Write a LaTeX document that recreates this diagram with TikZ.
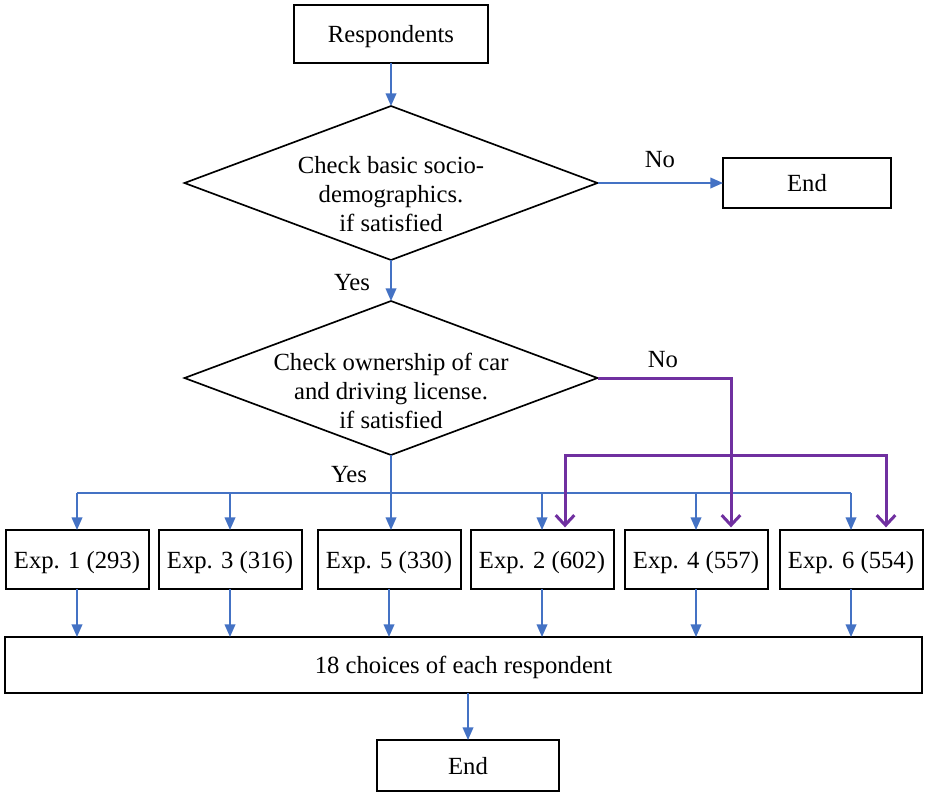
\documentclass[tikz,border=0pt]{standalone}
\usepackage{fontspec}
\setmainfont{Liberation Serif}
\usetikzlibrary{arrows.meta,shapes.geometric,calc}
\definecolor{bblue}{RGB}{68,114,196}
\definecolor{ppurple}{RGB}{112,48,160}
\begin{document}
\begin{tikzpicture}[x=0.75pt,y=-0.75pt,
  every node/.style={font=\fontsize{18.5}{21.75}\selectfont},
  box/.style={draw,line width=1.5pt,inner sep=0pt,outer sep=0pt,text depth=0pt},
  dia/.style={diamond,draw,line width=1.25pt,inner sep=0pt,outer sep=0pt,minimum width=309.75pt,minimum height=115.5pt},
  expbox/.style={box,minimum width=107.25pt,minimum height=44.25pt},
  bline/.style={draw=bblue,line width=1.25pt},
  barrow/.style={bline,-{Triangle[length=9.5pt,width=8pt]}},
  parrow/.style={draw=ppurple,line width=2.25pt,-{Straight Barb[length=7.5pt,width=14pt]},shorten >=2pt}]
\useasboundingbox (0,0) rectangle (927,794);
% nodes
\node[box,minimum width=145.5pt,minimum height=43.5pt] (r) at (391,34) {Respondents};
\node[dia] (d1) at (391,183) {};
\node[align=center] (t1) at (391,194) {Check basic socio-\\demographics.\\if satisfied};
\node[box,minimum width=126pt,minimum height=37.5pt] (end1) at (807,183) {End};
\node (no1) at (660,160) {No};
\node (yes1) at (352,283) {Yes};
\node[dia] (d2) at (391,378) {};
\node[align=center] (t2) at (391,391) {Check ownership of car\\and driving license.\\if satisfied};
\node (no2) at (663,360) {No};
\node (yes2) at (349,475) {Yes};
\node[expbox] (e1) at (77,559.5) {Exp. 1 (293)};
\node[expbox] (e3) at (230,559.5) {Exp. 3 (316)};
\node[expbox] (e5) at (389,559.5) {Exp. 5 (330)};
\node[expbox] (e2) at (542,559.5) {Exp. 2 (602)};
\node[expbox] (e4) at (696,559.5) {Exp. 4 (557)};
\node[expbox] (e6) at (851,559.5) {Exp. 6 (554)};
\node[box,minimum width=687.75pt,minimum height=42pt] (big) at (463.5,665) {18 choices of each respondent};
\node[box,minimum width=136.5pt,minimum height=38.25pt] (end2) at (468,765.5) {End};
% connectors
\draw[barrow] (r.south) -- (d1.north);
\draw[barrow] (d1.east) -- (end1.west);
\draw[barrow] (d1.south) -- (d2.north);
\coordinate (bus) at (0,493);
\draw[bline] (bus -| e1) -- (bus -| e6);
\foreach \n in {e1,e3,e2,e4,e6} \draw[barrow] (bus -| \n) -- (\n.north);
\draw[barrow] (d2.south) -- (d2.south |- e5.north);
\coordinate (p2) at ($(e2.north)+(23,0)$);
\coordinate (p4) at ($(e4.north)+(35,0)$);
\coordinate (p6) at ($(e6.north)+(35,0)$);
\coordinate (pb) at (0,455);
\draw[parrow] (d2.east) -| (p4);
\draw[parrow] (pb -| p2) -| (p6);
\draw[parrow] (pb -| p6) -| (p2);
\foreach \n in {e1,e3,e5,e2,e4,e6} \draw[barrow] (\n.south) -- (\n.south |- big.north);
\draw[barrow] (big.south -| end2) -- (end2.north);
\end{tikzpicture}
\end{document}
